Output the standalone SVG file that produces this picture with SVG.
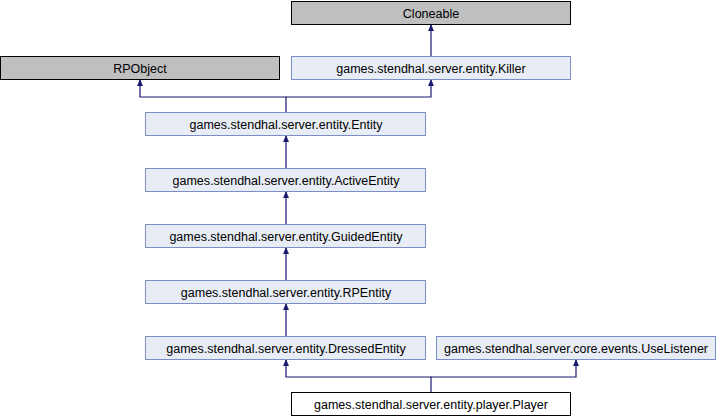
<svg xmlns="http://www.w3.org/2000/svg" width="717" height="416" viewBox="0 0 717 416">
<style>
.n rect{stroke-width:1}
.g{fill:#bfbfbf;stroke:#000}
.b{fill:#e8ecf5;stroke:#7b8fc6}
.w{fill:#fff;stroke:#000}
text{font-family:"Liberation Sans",Arial,sans-serif;font-size:12.5px;fill:#000;text-anchor:middle}
.e{fill:none;stroke:#191970;stroke-width:1.2}
</style>
<defs>
<marker id="a" markerWidth="8" markerHeight="8" refX="6" refY="3" orient="auto" markerUnits="userSpaceOnUse" viewBox="0 0 8 6">
<path d="M0,0.5 L6,3 L0,5.5 Z" fill="#191970" stroke="#191970" stroke-width="0.8"/>
</marker>
</defs>
<g id="edges">
<path class="e" d="M431,56 V25" marker-end="url(#a)"/>
<path class="e" d="M286,112 V97 H140 V80" marker-end="url(#a)"/>
<path class="e" d="M286,97 H431 V80" marker-end="url(#a)"/>
<path class="e" d="M286,168 V136" marker-end="url(#a)"/>
<path class="e" d="M286,224 V192" marker-end="url(#a)"/>
<path class="e" d="M286,280 V248" marker-end="url(#a)"/>
<path class="e" d="M286,336 V304" marker-end="url(#a)"/>
<path class="e" d="M431,392 V377 H286 V360" marker-end="url(#a)"/>
<path class="e" d="M431,377 H576 V360" marker-end="url(#a)"/>
</g>
<g id="Cloneable" class="n"><rect class="g" x="291.5" y="1.5" width="279" height="23"/><text x="431" y="17.5">Cloneable</text></g>
<g id="RPObject" class="n"><rect class="g" x="0.5" y="56.5" width="279" height="23"/><text x="140" y="72.5">RPObject</text></g>
<g id="Killer" class="n"><rect class="b" x="291.5" y="56.5" width="279" height="23"/><text x="431" y="72.5">games.stendhal.server.entity.Killer</text></g>
<g id="Entity" class="n"><rect class="b" x="145.5" y="112.5" width="280" height="23"/><text x="286" y="128.5">games.stendhal.server.entity.Entity</text></g>
<g id="ActiveEntity" class="n"><rect class="b" x="145.5" y="168.5" width="280" height="23"/><text x="286" y="184.5">games.stendhal.server.entity.ActiveEntity</text></g>
<g id="GuidedEntity" class="n"><rect class="b" x="145.5" y="224.5" width="280" height="23"/><text x="286" y="240.5">games.stendhal.server.entity.GuidedEntity</text></g>
<g id="RPEntity" class="n"><rect class="b" x="145.5" y="280.5" width="280" height="23"/><text x="286" y="296.5">games.stendhal.server.entity.RPEntity</text></g>
<g id="DressedEntity" class="n"><rect class="b" x="145.5" y="336.5" width="280" height="23"/><text x="286" y="352.5">games.stendhal.server.entity.DressedEntity</text></g>
<g id="UseListener" class="n"><rect class="b" x="436.5" y="336.5" width="279" height="23"/><text x="576" y="352.5">games.stendhal.server.core.events.UseListener</text></g>
<g id="Player" class="n"><rect class="w" x="291.5" y="392.5" width="279" height="23"/><text x="431" y="408.5">games.stendhal.server.entity.player.Player</text></g>
</svg>
